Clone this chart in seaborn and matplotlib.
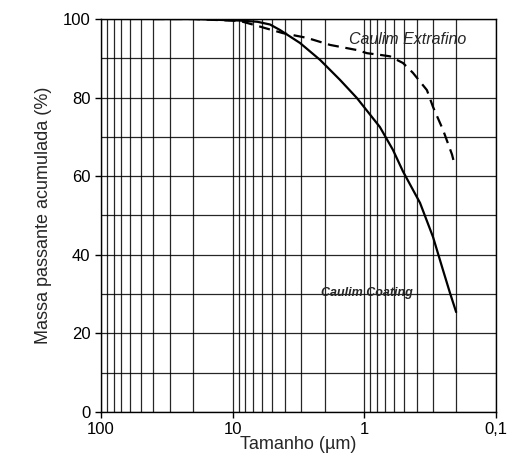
import numpy as np
import pandas as pd
import matplotlib
matplotlib.use("Agg")
import matplotlib.pyplot as plt
from matplotlib.ticker import LogLocator, FixedLocator, NullFormatter
import seaborn as sns

# curvas granulométricas (tamanho em µm, % passante)
coating_size = [40, 20, 8.8, 6.5, 5.2, 4.37, 3.08, 2.17, 1.53, 1.14, 0.762,
                0.607, 0.509, 0.378, 0.301, 0.253, 0.224, 0.201]
coating_pass = [100, 100, 99.6, 99.3, 98.6, 97.2, 93.9, 89.6, 84.5, 79.9, 72.5,
                66.7, 61.2, 53.2, 44.5, 36.1, 30.3, 25.4]

extrafino_size = [40, 20, 8.8, 6.54, 5.69, 4.15, 2.73, 1.82, 1.14, 0.955,
                  0.735, 0.640, 0.509, 0.428, 0.335, 0.301, 0.253, 0.216, 0.205]
extrafino_pass = [100, 100, 99.5, 98.3, 97.7, 96.4, 95.2, 93.4, 92.1, 91.3,
                  90.8, 90.5, 88.8, 86.3, 81.9, 77.6, 71.8, 65.5, 62.5]

x_ticks = [100, 10, 1, 0.1]
x_ticklabels = ["100", "10", "1", "0,1"]

df = pd.concat([
    pd.DataFrame({"size": coating_size, "pass": coating_pass, "amostra": "Caulim Coating"}),
    pd.DataFrame({"size": extrafino_size, "pass": extrafino_pass, "amostra": "Caulim Extrafino"}),
])

sns.set_style("ticks")
plt.rcParams["font.family"] = ["Liberation Sans", "DejaVu Sans"]

fig = plt.figure(figsize=(5.2, 4.75), dpi=100)
ax = fig.add_axes([0.194, 0.133, 0.76, 0.827])

sns.lineplot(data=df, x="size", y="pass", style="amostra",
             dashes={"Caulim Coating": "", "Caulim Extrafino": (5, 3)},
             color="black", lw=1.6, ax=ax, legend=False, sort=False)

ax.set_xscale("log")
ax.set_xlim(100, 0.1)
ax.set_ylim(0, 100)

ax.xaxis.set_major_locator(FixedLocator(x_ticks))
ax.set_xticklabels(x_ticklabels)
ax.xaxis.set_minor_locator(LogLocator(base=10, subs=np.arange(2, 10)))
ax.xaxis.set_minor_formatter(NullFormatter())
ax.set_yticks([0, 20, 40, 60, 80, 100])
ax.set_yticks([10, 30, 50, 70, 90], minor=True)

ax.grid(True, which="both", color="black", lw=0.9, alpha=0.85)
ax.tick_params(which="major", length=4, width=1, labelsize=12, colors="black")
ax.tick_params(which="minor", length=0)
for s in ax.spines.values():
    s.set_color("black")
    s.set_linewidth(1)

ax.set_xlabel("Tamanho (µm)", fontsize=13, labelpad=-1)
ax.set_ylabel("Massa passante acumulada (%)", fontsize=13, labelpad=8)

ax.text(0.467, 94.7, "Caulim Extrafino", style="italic", fontsize=11.5,
        ha="center", va="center")
ax.text(0.95, 30.3, "Caulim Coating", style="italic", fontsize=9,
        fontweight="bold", ha="center", va="center")

fig.savefig("out.png", dpi=100)
